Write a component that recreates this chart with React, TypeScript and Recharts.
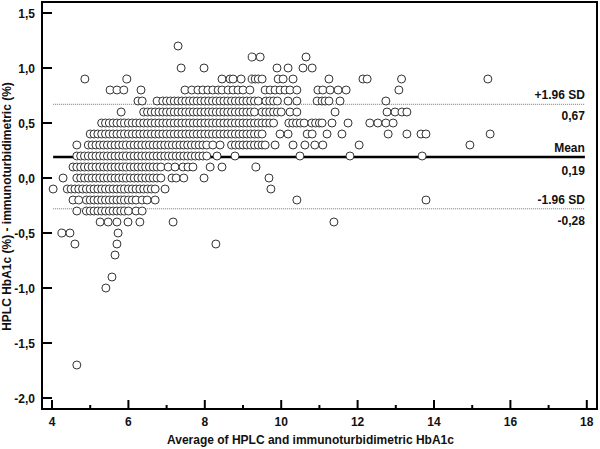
import React from 'react';
import { ScatterChart, Scatter, XAxis, YAxis, ReferenceLine, ReferenceArea, Label } from 'recharts';

const FONT = '"Liberation Sans", Arial, Helvetica, sans-serif';

// ---- axis ticks ----
const xTicks = [4, 5, 6, 7, 8, 9, 10, 11, 12, 13, 14, 15, 16, 17, 18];
const yTicks = [-2, -1.5, -1, -0.5, 0, 0.5, 1, 1.5];
const X_DOMAIN: [number, number] = [3.738, 18.267];
const Y_DOMAIN: [number, number] = [-2.1, 1.6];

// ---- Bland-Altman statistics ----
const meanDiff = 0.19;
const upperLoA = 0.67;
const lowerLoA = -0.28;
const limitTitles = ['+1.96 SD', 'Mean', '-1.96 SD'];
const lineStartX = 4.03;
const lineEndX = 17.95;

const xTitle = 'Average of HPLC and immunoturbidimetric HbA1c';
const yTitle = 'HPLC HbA1c (%) - immunoturbidimetric (%)';

// ---- data rows: difference value -> averages (x) ----
const row_1_2 = [7.30];
const row_1_1 = [9.24, 9.45, 10.65];
const row_1_0 = [7.38, 7.98, 9.89, 10.18, 10.57, 10.81];
const row_0_9 = [4.86, 5.96, 8.45, 8.66, 8.74, 8.95, 9.24, 9.32, 9.40, 9.50, 9.92, 10.05, 10.31, 11.25, 12.14, 12.25, 13.15, 15.41];
const row_0_8 = [5.52, 5.70, 5.88, 6.33, 7.48, 7.66, 7.82, 7.95, 8.08, 8.21, 8.35, 8.45, 8.61, 8.74, 8.87, 9.00, 9.18, 9.58, 9.71, 9.84, 9.97, 10.10, 10.23, 10.41, 10.96, 11.09, 11.28, 11.49, 11.70, 13.08];
const row_0_7 = [6.25, 6.36, 6.75, 6.9, 7.0, 7.1, 7.2, 7.3, 7.4, 7.5, 7.6, 7.7, 7.8, 7.9, 8.0, 8.1, 8.2, 8.3, 8.4, 8.5, 8.6, 8.7, 8.8, 8.9, 9.0, 9.1, 9.2, 9.3, 9.4, 9.6, 9.7, 9.8, 9.9, 10.18, 10.41, 10.94, 11.07, 11.15, 11.25, 11.54, 12.74];
const row_0_6 = [5.81, 6.4, 6.5, 6.6, 6.7, 6.8, 6.9, 7.0, 7.1, 7.2, 7.3, 7.4, 7.5, 7.6, 7.7, 7.8, 7.9, 8.0, 8.1, 8.2, 8.3, 8.4, 8.5, 8.6, 8.7, 8.8, 8.9, 9.0, 9.1, 9.2, 9.3, 9.5, 9.6, 9.7, 9.8, 9.9, 10.0, 10.23, 10.41, 11.41, 12.77, 12.98, 13.16, 13.29];
const row_0_5 = [5.3, 5.4, 5.5, 5.6, 5.7, 5.8, 5.9, 6.0, 6.1, 6.2, 6.3, 6.4, 6.5, 6.6, 6.7, 6.8, 6.9, 7.0, 7.1, 7.2, 7.3, 7.4, 7.5, 7.6, 7.7, 7.8, 7.9, 8.0, 8.1, 8.2, 8.3, 8.4, 8.5, 8.6, 8.7, 8.8, 8.9, 9.0, 9.1, 9.2, 9.3, 9.4, 9.5, 9.6, 9.7, 9.8, 10.2, 10.3, 10.4, 10.5, 10.6, 10.8, 10.9, 11.0, 11.07, 11.33, 11.75, 12.32, 12.53, 12.74, 12.93];
const row_0_4 = [5.0, 5.1, 5.2, 5.3, 5.4, 5.5, 5.6, 5.7, 5.8, 5.9, 6.0, 6.1, 6.2, 6.3, 6.4, 6.5, 6.6, 6.7, 6.8, 6.9, 7.0, 7.1, 7.2, 7.3, 7.4, 7.5, 7.6, 7.7, 7.8, 7.9, 8.0, 8.1, 8.2, 8.3, 8.4, 8.5, 8.6, 8.7, 8.8, 8.9, 9.0, 9.1, 9.2, 9.3, 9.4, 9.5, 9.97, 10.18, 10.68, 10.81, 11.20, 11.59, 12.80, 13.29, 13.66, 13.79, 15.47];
const row_0_3 = [4.65, 4.95, 5.05, 5.15, 5.25, 5.35, 5.45, 5.55, 5.65, 5.75, 5.85, 5.95, 6.05, 6.15, 6.25, 6.35, 6.45, 6.55, 6.65, 6.75, 6.85, 6.95, 7.05, 7.15, 7.25, 7.35, 7.45, 7.55, 7.65, 7.75, 7.85, 7.95, 8.05, 8.21, 8.40, 8.7, 8.8, 8.9, 9.0, 9.1, 9.2, 9.3, 9.4, 9.5, 9.58, 9.84, 10.31, 10.62, 10.88, 11.09, 12.04, 14.94];
const row_0_2 = [4.65, 4.75, 4.85, 4.95, 5.05, 5.15, 5.25, 5.35, 5.45, 5.55, 5.65, 5.75, 5.85, 5.95, 6.05, 6.15, 6.25, 6.35, 6.45, 6.55, 6.65, 6.75, 6.85, 6.95, 7.05, 7.15, 7.25, 7.35, 7.45, 7.55, 7.65, 7.75, 7.85, 7.95, 8.05, 8.32, 8.79, 10.49, 11.80, 13.69];
const row_0_1 = [4.55, 4.65, 4.75, 4.85, 4.95, 5.05, 5.15, 5.25, 5.35, 5.45, 5.55, 5.65, 5.75, 5.85, 5.95, 6.05, 6.15, 6.25, 6.35, 6.45, 6.55, 6.65, 6.75, 6.85, 7.04, 7.22, 7.43, 7.56, 7.69, 8.14, 8.45, 9.34];
const row_0_0 = [4.29, 4.65, 4.75, 4.85, 4.95, 5.05, 5.15, 5.25, 5.35, 5.45, 5.55, 5.65, 5.75, 5.85, 5.95, 6.05, 6.15, 6.25, 6.35, 6.45, 6.55, 6.65, 6.75, 6.85, 7.14, 7.25, 7.45, 7.98, 9.68];
const row_m0_1 = [4.03, 4.4, 4.5, 4.6, 4.7, 4.8, 4.9, 5.0, 5.1, 5.2, 5.3, 5.4, 5.5, 5.6, 5.7, 5.8, 5.9, 6.0, 6.1, 6.2, 6.3, 6.4, 6.5, 6.6, 6.7, 6.96, 9.73];
const row_m0_2 = [4.55, 4.70, 4.9, 5.0, 5.1, 5.2, 5.3, 5.4, 5.5, 5.6, 5.7, 5.8, 5.9, 6.0, 6.1, 6.2, 6.36, 6.49, 6.70, 10.41, 13.79];
const row_m0_3 = [4.65, 4.9, 5.0, 5.1, 5.2, 5.3, 5.4, 5.5, 5.6, 5.7, 5.8, 5.9, 6.0, 6.2, 6.36];
const row_m0_4 = [5.26, 5.47, 5.70, 5.99, 6.30, 7.17, 11.38];
const row_m0_5 = [4.26, 4.47, 5.73];
const row_m0_6 = [4.60, 5.70, 8.29];
const row_m0_7 = [5.65];
const row_m0_9 = [5.57];
const row_m1_0 = [5.41];
const row_m1_7 = [4.65];

const rows: [number, number[]][] = [
  [1.2, row_1_2], [1.1, row_1_1], [1.0, row_1_0], [0.9, row_0_9], [0.8, row_0_8],
  [0.7, row_0_7], [0.6, row_0_6], [0.5, row_0_5], [0.4, row_0_4], [0.3, row_0_3],
  [0.2, row_0_2], [0.1, row_0_1], [0.0, row_0_0], [-0.1, row_m0_1], [-0.2, row_m0_2],
  [-0.3, row_m0_3], [-0.4, row_m0_4], [-0.5, row_m0_5], [-0.6, row_m0_6], [-0.7, row_m0_7],
  [-0.9, row_m0_9], [-1.0, row_m1_0], [-1.7, row_m1_7],
];

const points = rows.flatMap(([y, xs]) => [...xs].sort((a, b) => a - b).map((x) => ({ x, y })));

const comma = (v: number, d: number) => v.toFixed(d).replace('.', ',');

const textStyle = { fontFamily: FONT, fontWeight: 700, fontSize: 12, fill: '#111' } as const;

const XTick = (props: any) => {
  const { x, y, payload } = props;
  const v = payload.value as number;
  const major = v % 2 === 0;
  return (
    <g>
      <line x1={x} x2={x} y1={y} y2={y - (major ? 9 : 4)} stroke="#000" strokeWidth={2} />
      {major && (
        <text x={x} y={y + 17} textAnchor="middle" {...textStyle}>
          {v}
        </text>
      )}
    </g>
  );
};

const YTick = (props: any) => {
  const { x, y, payload } = props;
  const v = payload.value as number;
  return (
    <g>
      <line x1={x} x2={x + 10} y1={y} y2={y} stroke="#000" strokeWidth={2} />
      <text x={x - 7} y={y + 4.5} textAnchor="end" {...textStyle}>
        {comma(v, 1)}
      </text>
    </g>
  );
};

const Ring = (props: any) => (
  <circle cx={props.cx} cy={props.cy} r={4} fill="#fff" stroke="#333" strokeWidth={1} />
);

const makeLimitLabel = (title: string, value: number, below: number) => (props: any) => {
  const vb = props.viewBox || {};
  const xEnd = (vb.x ?? 0) + (vb.width ?? 0);
  const y = vb.y ?? 0;
  return (
    <g>
      <text x={xEnd} y={y - 5} textAnchor="end" {...textStyle}>{title}</text>
      <text x={xEnd} y={y + below} textAnchor="end" {...textStyle}>{comma(value, 2)}</text>
    </g>
  );
};

const XTitle = (props: any) => {
  const vb = props.viewBox || { x: 42, y: 409, width: 555, height: 40 };
  return (
    <text x={vb.x + vb.width / 2 - 9} y={vb.y + 35} textAnchor="middle" {...textStyle}>
      {xTitle}
    </text>
  );
};

const YTitle = (props: any) => {
  const vb = props.viewBox || { x: 0, y: 2, width: 42, height: 407 };
  const cx = vb.x + 11;
  const cy = vb.y + vb.height / 2 + 1;
  return (
    <text x={cx} y={cy} transform={`rotate(-90, ${cx}, ${cy})`} textAnchor="middle" {...textStyle}>
      {yTitle}
    </text>
  );
};

export default function App() {
  return (
    <div style={{ position: 'absolute', left: 0, top: 0, background: '#fff' }}>
      <ScatterChart width={600} height={449} margin={{ top: 2, right: 3, bottom: 0, left: 0 }}>
        <XAxis
          type="number"
          dataKey="x"
          domain={X_DOMAIN}
          ticks={xTicks}
          interval={0}
          allowDataOverflow
          height={40}
          tickSize={0}
          tickMargin={0}
          tickLine={false}
          axisLine={{ stroke: '#000', strokeWidth: 2 }}
          tick={<XTick />}
        >
          <Label content={<XTitle />} />
        </XAxis>
        <YAxis
          type="number"
          dataKey="y"
          domain={Y_DOMAIN}
          ticks={yTicks}
          interval={0}
          allowDataOverflow
          width={42}
          tickSize={0}
          tickMargin={0}
          tickLine={false}
          axisLine={{ stroke: '#000', strokeWidth: 2 }}
          tick={<YTick />}
        >
          <Label content={<YTitle />} />
        </YAxis>
        <ReferenceArea
          x1={X_DOMAIN[0]}
          x2={X_DOMAIN[1]}
          y1={Y_DOMAIN[0]}
          y2={Y_DOMAIN[1]}
          fill="none"
          fillOpacity={0}
          stroke="#000"
          strokeWidth={2}
        />
        <Scatter data={points} isAnimationActive={false} shape={Ring} />
        <ReferenceLine
          segment={[{ x: lineStartX, y: upperLoA }, { x: lineEndX, y: upperLoA }]}
          stroke="#777"
          strokeWidth={1}
          strokeDasharray="1 1"
          label={makeLimitLabel(limitTitles[0], upperLoA, 16)}
        />
        <ReferenceLine
          segment={[{ x: lineStartX, y: meanDiff }, { x: lineEndX, y: meanDiff }]}
          stroke="#000"
          strokeWidth={2.5}
          label={makeLimitLabel(limitTitles[1], meanDiff, 18)}
        />
        <ReferenceLine
          segment={[{ x: lineStartX, y: lowerLoA }, { x: lineEndX, y: lowerLoA }]}
          stroke="#777"
          strokeWidth={1}
          strokeDasharray="1 1"
          label={makeLimitLabel(limitTitles[2], lowerLoA, 16)}
        />
      </ScatterChart>
    </div>
  );
}
